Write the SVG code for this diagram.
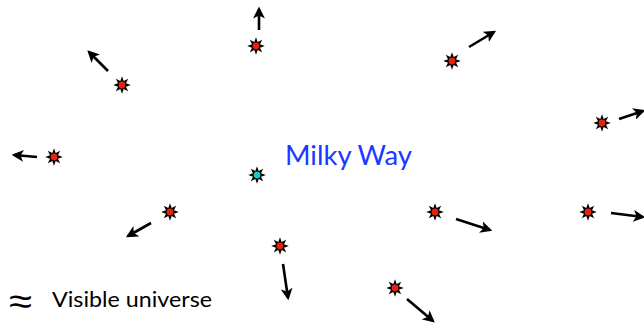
<svg xmlns="http://www.w3.org/2000/svg" width="644" height="328" viewBox="0 0 644 328">
  <style>
    .arrow { stroke: #000; stroke-width: 2.6; fill: none; marker-end: url(#head); }
    .core { fill: #e8210c; }
    .home { fill: #19c9c9; }
    .label { font-family: Lato, "Open Sans", "Liberation Sans", sans-serif; }
    .approx { font-family: "DejaVu Sans", sans-serif; font-weight: 200; }
  </style>
  <defs>
    <marker id="head" viewBox="0 0 10 10" refX="8" refY="5" markerWidth="4.6" markerHeight="4.6" orient="auto" markerUnits="strokeWidth">
      <path d="M0,0 L10,5 L0,10 L2.5,5 Z" fill="#000"/>
    </marker>
    <!-- eight-pointed star -->
    <polygon id="star" points="0,-8.8 1.7,-4 6.2,-6.2 4,-1.7 8.8,0 4,1.7 6.2,6.2 1.7,4 0,8.8 -1.7,4 -6.2,6.2 -4,1.7 -8.8,0 -4,-1.7 -6.2,-6.2 -1.7,-4" fill="#000"/>
  </defs>

  <rect width="644" height="328" fill="#fff"/>

  <!-- recession velocity arrows -->
  <g id="connectors">
    <line class="arrow" x1="259" y1="30" x2="259" y2="9"/>
    <line class="arrow" x1="108" y1="71" x2="89" y2="52"/>
    <line class="arrow" x1="469" y1="47" x2="494" y2="32"/>
    <line class="arrow" x1="619" y1="119" x2="643" y2="111"/>
    <line class="arrow" x1="37" y1="157" x2="14" y2="155"/>
    <line class="arrow" x1="151" y1="223" x2="128" y2="236"/>
    <line class="arrow" x1="456" y1="219" x2="490" y2="230"/>
    <line class="arrow" x1="611" y1="213" x2="643" y2="217"/>
    <line class="arrow" x1="283" y1="264" x2="288" y2="298"/>
    <line class="arrow" x1="407" y1="299" x2="433" y2="321"/>
  </g>

  <!-- galaxies -->
  <g id="g1" transform="translate(256,46)"><use href="#star"/><circle class="core" r="3.4"/></g>
  <g id="g2" transform="translate(122,85)"><use href="#star"/><circle class="core" r="3.4"/></g>
  <g id="g3" transform="translate(452,61)"><use href="#star"/><circle class="core" r="3.4"/></g>
  <g id="g4" transform="translate(602,123)"><use href="#star"/><circle class="core" r="3.4"/></g>
  <g id="g5" transform="translate(54,157)"><use href="#star"/><circle class="core" r="3.4"/></g>
  <g id="milky-way" transform="translate(257,175)"><use href="#star"/><circle class="home" r="3.4"/></g>
  <g id="g7" transform="translate(170,212)"><use href="#star"/><circle class="core" r="3.4"/></g>
  <g id="g8" transform="translate(435,212)"><use href="#star"/><circle class="core" r="3.4"/></g>
  <g id="g9" transform="translate(588,212)"><use href="#star"/><circle class="core" r="3.4"/></g>
  <g id="g10" transform="translate(280,246)"><use href="#star"/><circle class="core" r="3.4"/></g>
  <g id="g11" transform="translate(395,288)"><use href="#star"/><circle class="core" r="3.4"/></g>

  <g id="labels">
    <text class="label" x="285" y="165" font-size="27" fill="#1a38ff" textLength="127" lengthAdjust="spacingAndGlyphs">Milky Way</text>
    <text class="approx" transform="translate(9,314) scale(1,1.45)" x="0" y="0" font-size="26" fill="#000" textLength="23" lengthAdjust="spacingAndGlyphs">≈</text>
    <text class="label" x="52" y="307" font-size="21" fill="#000" textLength="160" lengthAdjust="spacingAndGlyphs">Visible universe</text>
  </g>
</svg>
